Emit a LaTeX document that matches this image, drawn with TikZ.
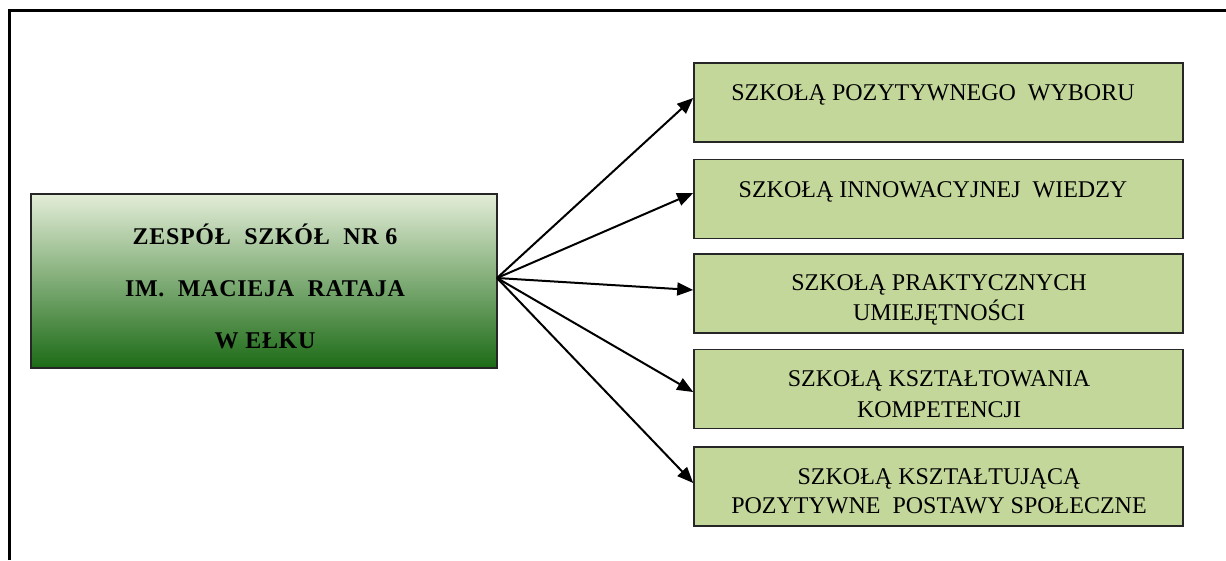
\documentclass[tikz,border=0pt]{standalone}
\usepackage{fontspec}
\setmainfont{Liberation Serif}
\usetikzlibrary{arrows.meta}
\definecolor{boxfill}{HTML}{C4D79B}
\definecolor{gtop}{HTML}{E3EDD7}
\definecolor{gmid}{HTML}{9BB66E}
\definecolor{gbot}{HTML}{1C6B16}
\tikzset{
  rbox/.style={draw=black!85, line width=1.6pt, fill=boxfill, minimum width=489pt, minimum height=79pt, inner sep=0pt},
  rtext/.style={anchor=base, align=center, inner sep=0pt, font=\fontsize{24}{30}\selectfont},
  conn/.style={line width=2pt, -{Triangle[length=16pt,width=13pt]}},
}
\begin{document}
\begin{tikzpicture}[x=1pt,y=-1pt]
\useasboundingbox (0,0) rectangle (1226,560);
\fill[white] (0,0) rectangle (1226,560);
% open frame (top and left)
\coordinate (f1) at (9,560);
\coordinate (f2) at (9,10);
\coordinate (f3) at (1226,10);
\draw[line width=3pt] (f1) -- (f2) -- (f3);
% main box
\node[draw=black!85, line width=1.6pt, minimum width=466pt, minimum height=174pt, inner sep=0pt,
      shading=axis, top color=gtop, middle color=gmid, bottom color=gbot] (L) at (264,281) {};
\node[anchor=base, align=center, inner sep=0pt, font=\fontsize{24}{52}\selectfont\bfseries\addfontfeatures{LetterSpace=3}] (Lt) at (265,348)
  {ZESPÓŁ\ \ SZKÓŁ\ \ NR 6\\IM.\ \ MACIEJA\ \ RATAJA\\W EŁKU};
% right boxes
\node[rbox] (B1) at (938.5,102.5) {};
\node[rbox] (B2) at (938.5,199) {};
\node[rbox] (B3) at (938.5,293.5) {};
\node[rbox] (B4) at (938.5,389) {};
\node[rbox] (B5) at (938.5,486.5) {};
\node[rtext] (T1) at (933,100) {SZKOŁĄ POZYTYWNEGO\ \ WYBORU};
\node[rtext] (T2) at (933,197) {SZKOŁĄ INNOWACYJNEJ\ \ WIEDZY};
\node[rtext] (T3) at (939,320) {SZKOŁĄ PRAKTYCZNYCH\\UMIEJĘTNOŚCI};
\node[rtext, font=\fontsize{24}{31}\selectfont] (T4) at (939,417) {SZKOŁĄ KSZTAŁTOWANIA\\KOMPETENCJI};
\node[rtext, font=\fontsize{24}{29}\selectfont] (T5) at (939,513) {SZKOŁĄ KSZTAŁTUJĄCĄ\\POZYTYWNE\ \ POSTAWY SPOŁECZNE};
% connectors
\coordinate (src) at (497,278);
\draw[conn] (src) -- ([yshift=4.5pt]B1.west);
\draw[conn] (src) -- ([yshift=6pt]B2.west);
\draw[conn] (src) -- ([yshift=3.5pt]B3.west);
\draw[conn] (src) -- ([yshift=-3pt]B4.west);
\draw[conn] (src) -- ([yshift=3.5pt]B5.west);
\end{tikzpicture}
\end{document}
